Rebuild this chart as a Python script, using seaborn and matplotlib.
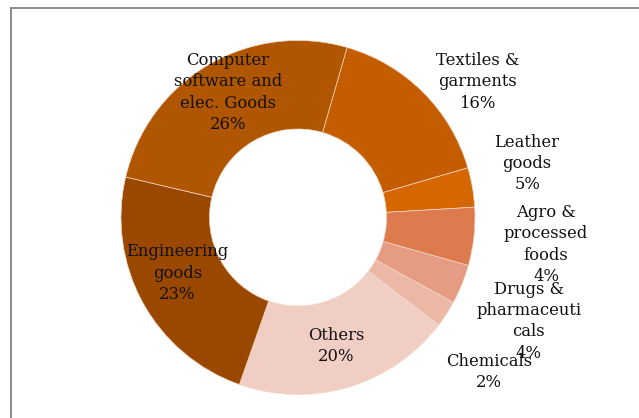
import numpy as np
import matplotlib.pyplot as plt
import seaborn as sns
from matplotlib.patches import Rectangle

# slice order clockwise, starting at Textiles
categories = ["Textiles &\ngarments", "Leather\ngoods", "Agro &\nprocessed\nfoods",
              "Drugs &\npharmaceuti\ncals", "Chemicals", "Others",
              "Engineering\ngoods", "Computer\nsoftware and\nelec. Goods"]
shares = [16.0, 3.6, 5.3, 3.6, 2.4, 20.0, 23.3, 25.8]
pct_labels = ["16%", "5%", "4%", "4%", "2%", "20%", "23%", "26%"]

colors = ["#C45C00", "#D56700", "#DE7B4E", "#E59C82", "#EBB8A6", "#F1CEC4",
          "#9A4700", "#B05500"]

# label placement (radius in units of R, angle nudge in degrees, clockwise)
label_r = [1.27, 1.33, 1.41, 1.43, 1.39, 0.76, 0.75, 0.81]
label_nudge = [8, -3.5, 0, 2, 6, 0, 4, 1]

sns.set_style("white")
plt.rcParams["font.family"] = ["DejaVu Serif"]

fig = plt.figure(figsize=(6.39, 4.18), dpi=100)
ax = fig.add_axes([0, 0, 1, 1])

start = 90 - 16.1
wedges, _ = ax.pie(shares, colors=colors, startangle=start, counterclock=False,
                   radius=1.0, wedgeprops=dict(width=0.5, edgecolor="#F3D6C6", linewidth=0.5))

for w, lab, pct, r, nud in zip(wedges, categories, pct_labels, label_r, label_nudge):
    mid = np.deg2rad((w.theta1 + w.theta2) / 2 - nud)
    ax.text(r * np.cos(mid), r * np.sin(mid), lab + "\n" + pct, ha="center", va="center",
            fontsize=11.8, color="#111111", linespacing=1.32)

ax.set_xlim(-298 / 177, (639 - 298) / 177)
ax.set_ylim(-(418 - 217.5) / 177, 217.5 / 177)
ax.set_aspect("equal")
ax.axis("off")

# chart frame (runs past the right and bottom edges)
fig.patches.append(Rectangle((11 / 639, -0.1), 1.2, 1.1 - 8 / 418, transform=fig.transFigure,
                             fill=False, edgecolor="#8C8C8C", linewidth=1.4))

plt.savefig("out.png", dpi=100)
